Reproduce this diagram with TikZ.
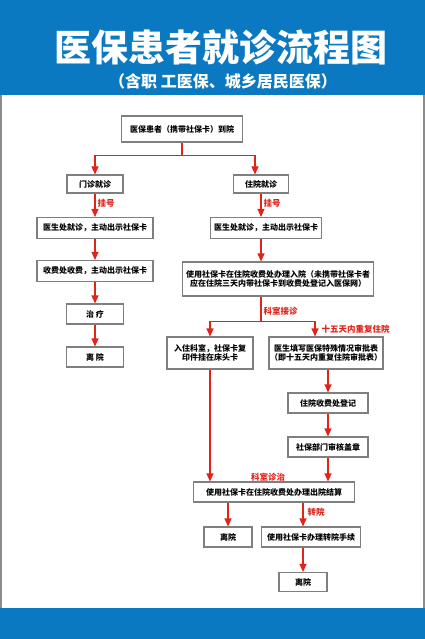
\documentclass[tikz,border=0pt]{standalone}
\usepackage{fontspec}
\setmainfont{Noto Sans CJK SC}
\usetikzlibrary{positioning,arrows.meta,calc}

\definecolor{bandblue}{HTML}{0A79C1}
\definecolor{flowred}{HTML}{E2231A}
\definecolor{boxgray}{HTML}{7F7F7F}

\begin{document}
\begin{tikzpicture}[
  x=1pt, y=-1pt,
  font=\bfseries\fontsize{8}{9.5}\selectfont,
  >={Triangle[width=7pt,length=8pt]},
  box/.style={draw=boxgray, line width=1.1pt, fill=white, inner sep=0pt, align=center},
  flow/.style={draw=flowred, line width=1.1pt},
  lbl/.style={text=flowred, inner sep=2pt, font=\bfseries\fontsize{8.5}{10}\selectfont},
]
\useasboundingbox (0,0) rectangle (425,639);

% ===== bands and frame =====
\fill[bandblue] (0,0) rectangle (425,95);
\fill[bandblue] (0,608) rectangle (425,639);
\draw[boxgray!90, line width=2pt] (1,95) -- (1,608) (424,95) -- (424,608);
\node[text=white, font=\bfseries\fontsize{37}{40}\selectfont] (title) at (221,47) {医保患者就诊流程图};
\node[text=white, font=\bfseries\fontsize{16}{18}\selectfont] (subtitle) at (223,81) {（含职 工医保、城乡居民医保）};

% ===== boxes =====
\node[box, minimum width=121pt, minimum height=26pt] (start) at (182,129) {医保患者（携带社保卡）到院};
\node[box, minimum width=56pt, minimum height=18pt] (mz) at (95,184) {门诊就诊};
\node[box, minimum width=55pt, minimum height=18pt] (zy) at (261,184) {住院就诊};
\node[box, minimum width=116pt, minimum height=21pt] (mzdoc) at (95,228) {医生处就诊，主动出示社保卡};
\node[box, minimum width=111pt, minimum height=21pt] (zydoc) at (266,228) {医生处就诊，主动出示社保卡};
\node[box, minimum width=116pt, minimum height=21pt] (mzfee) at (95,271) {收费处收费，主动出示社保卡};
\node[box, minimum width=57pt, minimum height=20pt] (mzcure) at (95,314) {治 疗};
\node[box, minimum width=57pt, minimum height=20pt] (mzout) at (95,357) {离 院};
\node[box, minimum width=191pt, minimum height=34pt] (ruyuan) at (278,279) {使用社保卡在住院收费处办理入院（未携带社保卡者\\应在住院三天内带社保卡到收费处登记入医保网）};
\node[box, minimum width=86pt, minimum height=32pt] (ward) at (210,353) {入住科室，社保卡复\\印件挂在床头卡};
\node[box, minimum width=114pt, minimum height=32pt] (form) at (326,353) {医生填写医保特殊情况审批表\\（即十五天内重复住院审批表）};
\node[box, minimum width=80pt, minimum height=20pt] (reg) at (328,403) {住院收费处登记};
\node[box, minimum width=80pt, minimum height=20pt] (audit) at (328,447) {社保部门审核盖章};
\node[box, minimum width=161pt, minimum height=20pt] (settle) at (274,492) {使用社保卡在住院收费处办理出院结算};
\node[box, minimum width=48pt, minimum height=20pt] (out1) at (228,537) {离院};
\node[box, minimum width=99pt, minimum height=20pt] (transfer) at (311,537) {使用社保卡办理转院手续};
\node[box, minimum width=48pt, minimum height=19pt] (out2) at (303,582) {离院};

% ===== connectors =====
\coordinate (split1) at ($(start.south)+(0,13)$);
\coordinate (split2) at ($(zy.south |- ruyuan.south)+(0,25)$);
\draw[flow] (start.south) -- (split1);
\draw[flow,->] (split1) -| (mz.north);
\draw[flow,->] (split1) -| ([xshift=-6pt]zy.north);
% outpatient
\draw[flow,->] (mz.south) -- node[lbl,right,pos=0.4]{挂号} (mzdoc.north);
\draw[flow,->] (mzdoc.south) -- (mzfee.north);
\draw[flow,->] (mzfee.south) -- (mzcure.north);
\draw[flow,->] (mzcure.south) -- (mzout.north);
% inpatient
\draw[flow,->] (zy.south) -- node[lbl,right,pos=0.4]{挂号} (zy.south |- zydoc.north);
\draw[flow,->] (zy.south |- zydoc.south) -- (zy.south |- ruyuan.north);
\draw[flow] (zy.south |- ruyuan.south) -- node[lbl,right,pos=0.6]{科室接诊} (split2);
\draw[flow,->] (split2) -| (ward.north);
\draw[flow,->] (split2) -| node[lbl,right,pos=0.75,xshift=4pt]{十五天内重复住院} ([xshift=-11pt]form.north);
\draw[flow,->] (ward.south) -- (ward.south |- settle.north);
\draw[flow,->] (reg.north |- form.south) -- (reg.north);
\draw[flow,->] (reg.south) -- (audit.north);
\draw[flow,->] (audit.south) -- (audit.south |- settle.north);
\node[lbl] (treat) at (268,477) {科室诊治};
\draw[flow,->] (out1.north |- settle.south) -- (out1.north);
\draw[flow,->] (out2.north |- settle.south) -- node[lbl,right,pos=0.4,xshift=2pt]{转院} (out2.north |- transfer.north);
\draw[flow,->] (out2.north |- transfer.south) -- (out2.north);
\end{tikzpicture}
\end{document}
